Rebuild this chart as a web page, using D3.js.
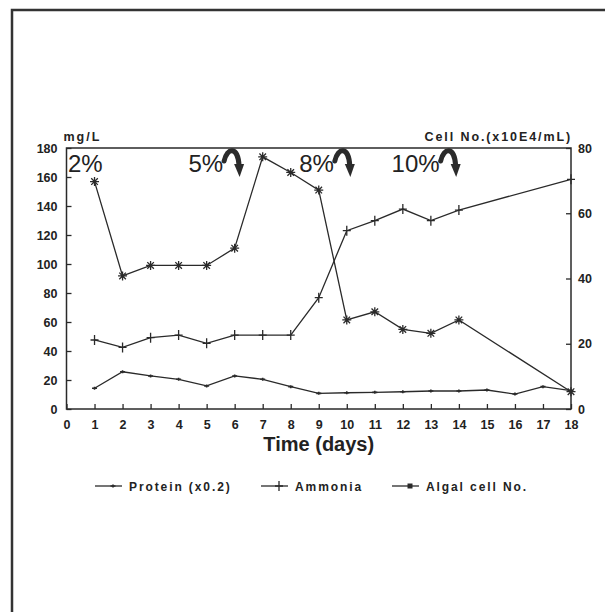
<!DOCTYPE html>
<html>
<head>
<meta charset="utf-8">
<script src="https://cdn.jsdelivr.net/npm/d3@7/dist/d3.min.js"></script>
<style>
  html, body { margin: 0; padding: 0; background: #fff; }
  svg { display: block; }
  text { fill: #222; }
</style>
</head>
<body>
<svg id="chart" width="605" height="612"></svg>
<script>
// Days of the culture run
const days = [1, 2, 3, 4, 5, 6, 7, 8, 9, 10, 11, 12, 13, 14, 15, 16, 17, 18];
// Protein (x0.2), mg/L — measured every day
const protein = [14.3, 25.7, 22.8, 20.5, 15.9, 22.8, 20.5, 15.4, 10.8, 11.2, 11.5, 11.9, 12.4, 12.4, 13.1, 10.3, 15.4, 12.6];
// Ammonia, mg/L — days 1–14 and 18
const ammoniaDays = [1, 2, 3, 4, 5, 6, 7, 8, 9, 10, 11, 12, 13, 14, 18];
const ammonia = [47.6, 42.5, 49.2, 51, 45.3, 51, 51, 51, 76.8, 123, 129.9, 137.9, 129.9, 137.2, 158.4];
// Algal cell No. (x10E4/mL) — right axis, days 1–14 and 18
const algalDays = [1, 2, 3, 4, 5, 6, 7, 8, 9, 10, 11, 12, 13, 14, 18];
const algal = [69.7, 40.8, 44, 44, 44, 49.3, 77.3, 72.5, 67.1, 27.3, 29.8, 24.4, 23.2, 27.3, 5.3];
// Tick labels
const leftTicks = [0, 20, 40, 60, 80, 100, 120, 140, 160, 180];
const rightTicks = [0, 20, 40, 60, 80];
const xTicks = [0, 1, 2, 3, 4, 5, 6, 7, 8, 9, 10, 11, 12, 13, 14, 15, 16, 17, 18];
// Dilution steps marked along the top
const stepLabels = ["2%", "5%", "8%", "10%"];
const stepDays = [0.05, 4.35, 8.3, 11.6];
const stepArrow = [false, true, true, true];
// Legend entries
const legendLabels = ["Protein (x0.2)", "Ammonia", "Algal cell No."];

const svg = d3.select("#chart");
const ink = "#2a2a2a";
const font = "'Liberation Sans', Arial, sans-serif";

// outer frame (left and top edges)
svg.append("path")
  .attr("d", "M12,612 L12,10 L605,10")
  .attr("fill", "none").attr("stroke", "#333").attr("stroke-width", 2.5);

const x = d3.scaleLinear().domain([0, 18]).range([66.5, 571]);
const yL = d3.scaleLinear().domain([0, 180]).range([409, 148]);
const yR = d3.scaleLinear().domain([0, 80]).range([409, 148]);

function styleAxis(g) {
  g.select(".domain").remove();
  g.selectAll(".tick line").attr("stroke", ink).attr("stroke-width", 1.3);
  g.selectAll(".tick text")
    .attr("font-family", font).attr("font-weight", "bold")
    .attr("font-size", 12.5).attr("fill", "#222");
}

svg.append("g").attr("transform", `translate(${x(0)},0)`)
  .call(d3.axisLeft(yL).tickValues(leftTicks).tickSizeInner(-5).tickSizeOuter(0).tickPadding(9))
  .call(styleAxis);
svg.append("g").attr("transform", `translate(${x(18)},0)`)
  .call(d3.axisRight(yR).tickValues(rightTicks).tickSizeInner(-5).tickSizeOuter(0).tickPadding(7))
  .call(styleAxis);
svg.append("g").attr("transform", `translate(0,${yL(0)})`)
  .call(d3.axisBottom(x).tickValues(xTicks).tickFormat(d3.format("d")).tickSizeInner(-5).tickSizeOuter(0).tickPadding(11))
  .call(styleAxis);

// plot frame
svg.append("rect")
  .attr("x", x(0)).attr("y", yL(180))
  .attr("width", x(18) - x(0)).attr("height", yL(0) - yL(180))
  .attr("fill", "none").attr("stroke", ink).attr("stroke-width", 1.5);

// axis titles
svg.append("text").attr("x", x(0) - 3).attr("y", 141)
  .attr("font-family", font).attr("font-weight", "bold").attr("font-size", 12.5)
  .attr("letter-spacing", 2)
  .text("mg/L");
svg.append("text").attr("x", x(18) + 1).attr("y", 141).attr("text-anchor", "end")
  .attr("font-family", font).attr("font-weight", "bold").attr("font-size", 12.5)
  .attr("letter-spacing", 1.9)
  .text("Cell No.(x10E4/mL)");
svg.append("text").attr("x", (x(0) + x(18)) / 2).attr("y", 451).attr("text-anchor", "middle")
  .attr("font-family", font).attr("font-weight", "bold").attr("font-size", 20)
  .text("Time (days)");

// marker shapes
function markProtein(g, cx, cy) {
  g.append("path").attr("d", `M${cx - 2.5},${cy} L${cx + 2.5},${cy} M${cx},${cy - 1.5} L${cx},${cy + 1.5}`)
    .attr("stroke", ink).attr("stroke-width", 1.6);
}
function markPlus(g, cx, cy) {
  g.append("path").attr("d", `M${cx - 4},${cy} L${cx + 4},${cy} M${cx},${cy - 5} L${cx},${cy + 5}`)
    .attr("stroke", ink).attr("stroke-width", 1.3);
}
function markStar(g, cx, cy) {
  const r = 4.5, d = 3.3;
  g.append("path").attr("d",
    `M${cx},${cy - r} L${cx},${cy + r} M${cx - r},${cy} L${cx + r},${cy} ` +
    `M${cx - d},${cy - d} L${cx + d},${cy + d} M${cx - d},${cy + d} L${cx + d},${cy - d}`)
    .attr("stroke", ink).attr("stroke-width", 1.3);
}

const line = (ys) => d3.line().x(d => x(d[0])).y(d => ys(d[1]));

const series = [
  { xs: days, vs: protein, scale: yL, mark: markProtein },
  { xs: ammoniaDays, vs: ammonia, scale: yL, mark: markPlus },
  { xs: algalDays, vs: algal, scale: yR, mark: markStar }
];
series.forEach(s => {
  const pts = s.xs.map((d, i) => [d, s.vs[i]]);
  svg.append("path").datum(pts)
    .attr("d", line(s.scale))
    .attr("fill", "none").attr("stroke", ink).attr("stroke-width", 1.3);
  const g = svg.append("g");
  pts.forEach(p => s.mark(g, x(p[0]), s.scale(p[1])));
});

// dilution labels with curved arrows
stepLabels.forEach((lab, i) => {
  const tx = x(stepDays[i]);
  const t = svg.append("text").attr("x", tx).attr("y", 172)
    .attr("font-family", font).attr("font-size", 24).attr("fill", "#262626")
    .text(lab);
  if (stepArrow[i]) {
    const w = t.node().getComputedTextLength();
    const ax = tx + w + 1;
    const g = svg.append("g");
    g.append("path")
      .attr("d", `M${ax},${161} C${ax + 3},${147} ${ax + 14},${146} ${ax + 15},${166}`)
      .attr("fill", "none").attr("stroke", "#2b2b2b").attr("stroke-width", 5)
      .attr("stroke-linecap", "round");
    g.append("path")
      .attr("d", `M${ax + 10},${164} L${ax + 20},${164} L${ax + 15.5},${177} Z`)
      .attr("fill", "#2b2b2b");
  }
});

// legend
const legendY = 486;
const legendItems = [
  { x0: 95, mark: (g, cx, cy) => markProtein(g, cx, cy) },
  { x0: 261, mark: (g, cx, cy) => markPlus(g, cx, cy) },
  { x0: 392, mark: (g, cx, cy) => g.append("rect").attr("x", cx - 2.5).attr("y", cy - 2.5).attr("width", 5).attr("height", 5).attr("fill", ink) }
];
legendItems.forEach((it, i) => {
  const g = svg.append("g");
  g.append("line").attr("x1", it.x0).attr("x2", it.x0 + 27)
    .attr("y1", legendY).attr("y2", legendY)
    .attr("stroke", ink).attr("stroke-width", 1.3);
  it.mark(g, it.x0 + 18, legendY);
  g.append("text").attr("x", it.x0 + 34).attr("y", legendY + 4.5)
    .attr("font-family", font).attr("font-weight", "bold").attr("font-size", 12)
    .attr("letter-spacing", 1.9)
    .text(legendLabels[i]);
});
</script>
</body>
</html>
